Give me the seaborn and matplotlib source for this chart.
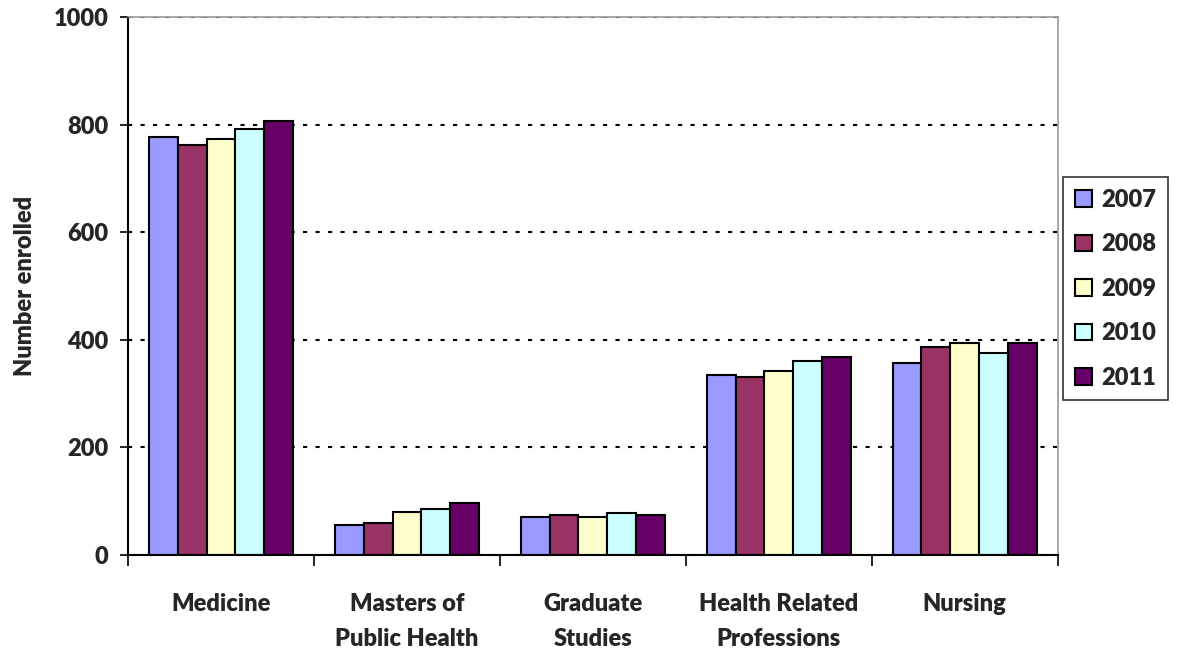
import pandas as pd
import numpy as np
import matplotlib
matplotlib.use('Agg')
import matplotlib.pyplot as plt
import seaborn as sns

# ---- data ----
programs = ['Medicine', 'Masters of\nPublic Health', 'Graduate\nStudies',
            'Health Related\nProfessions', 'Nursing']
years = ['2007', '2008', '2009', '2010', '2011']
enrolled_2007 = [776, 56, 71, 335, 357]
enrolled_2008 = [762, 59, 75, 330, 387]
enrolled_2009 = [773, 81, 70, 342, 394]
enrolled_2010 = [791, 85, 78, 361, 375]
enrolled_2011 = [807, 97, 75, 368, 395]
year_colors = ['#9999FF', '#993366', '#FFFFCC', '#CCFFFF', '#660066']

series = [enrolled_2007, enrolled_2008, enrolled_2009, enrolled_2010, enrolled_2011]
rows = []
for yr, vals in zip(years, series):
    for prog, v in zip(programs, vals):
        rows.append({'program': prog, 'year': yr, 'enrolled': v})
df = pd.DataFrame(rows)

# ---- style ----
sns.set_style('white')
plt.rcParams['font.family'] = ['Lato', 'DejaVu Sans']
FW = 'heavy'
FS = 17

fig = plt.figure(figsize=(11.79, 6.5), dpi=100)
ax = fig.add_axes([0.1086, 0.146, 0.7885, 0.828])

sns.barplot(data=df, x='program', y='enrolled', hue='year', order=programs,
            hue_order=years, palette=year_colors, edgecolor='black',
            linewidth=1.5, width=0.775, gap=0, saturation=1, ax=ax)

ax.set_ylim(0, 1000)
ax.set_xlim(-0.5, len(programs) - 0.5)
ax.set_yticks(range(0, 1001, 200))
ax.yaxis.grid(True, color='black', linestyle=(0, (2, 4)), linewidth=1.5)
ax.set_axisbelow(True)

# category separators as minor ticks
ax.set_xticks(np.arange(-0.5, len(programs), 1.0), minor=True)
ax.tick_params(axis='x', which='major', length=0, pad=27, labelsize=FS)
ax.tick_params(axis='x', which='minor', direction='out', length=8, width=1.2,
               color='black', bottom=True)
ax.tick_params(axis='y', direction='out', length=6, width=1.2, left=True,
               labelsize=FS, color='black', pad=8)
for lbl in ax.get_xticklabels() + ax.get_yticklabels():
    lbl.set_fontweight(FW)
for lbl in ax.get_xticklabels():
    lbl.set_linespacing(1.75)

ax.set_xlabel('')
ax.set_ylabel('Number enrolled', fontsize=FS, fontweight=FW, labelpad=13)

for side in ['left', 'bottom']:
    ax.spines[side].set_color('black')
    ax.spines[side].set_linewidth(1.5)
for side in ['top', 'right']:
    ax.spines[side].set_visible(True)
    ax.spines[side].set_color('#999999')
    ax.spines[side].set_linewidth(1.2)

leg = ax.legend(loc='center left', bbox_to_anchor=(1.006, 0.495), frameon=True,
                fancybox=False, edgecolor='black', fontsize=FS,
                handlelength=0.7, handleheight=0.7, labelspacing=0.95,
                borderpad=0.5, handletextpad=0.4, borderaxespad=0)
leg.get_frame().set_linewidth(1.2)
for t in leg.get_texts():
    t.set_fontweight(FW)

fig.savefig('out.png', dpi=100)
